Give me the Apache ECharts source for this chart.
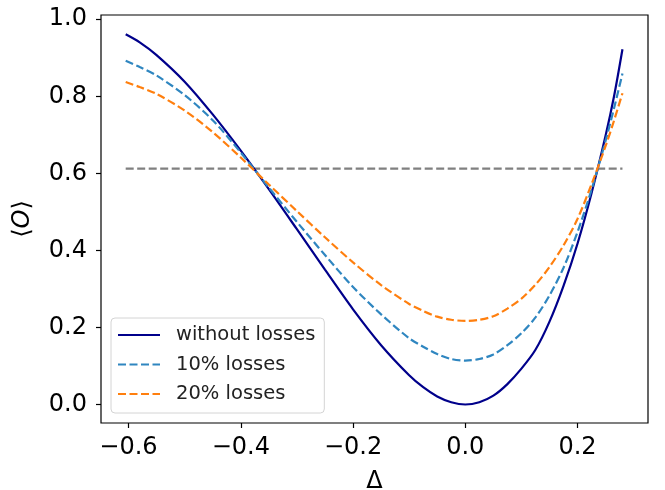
<!DOCTYPE html>
<html>
<head>
<meta charset="utf-8">
<script src="https://cdn.jsdelivr.net/npm/echarts@6/dist/echarts.min.js"></script>
<style>
  html, body { margin: 0; padding: 0; background: #fff; }
  #chart { width: 665px; height: 490px; }
</style>
</head>
<body>
<div id="chart"></div>
<script>
// detuning values (x) and expectation values
const deltas = [-0.605, -0.58, -0.55, -0.50, -0.45, -0.40, -0.35, -0.30, -0.25, -0.20, -0.15, -0.10, -0.075, -0.05, -0.025, 0, 0.025, 0.05, 0.075, 0.10, 0.125, 0.15, 0.175, 0.20, 0.225, 0.25, 0.265, 0.28]
const withoutLosses = [0.961, 0.940, 0.907, 0.838, 0.753, 0.659, 0.559, 0.455, 0.350, 0.247, 0.154, 0.076, 0.045, 0.021, 0.006, 0.0, 0.006, 0.023, 0.053, 0.093, 0.142, 0.215, 0.308, 0.418, 0.549, 0.698, 0.800, 0.922]
const losses10 = [0.892, 0.876, 0.854, 0.803, 0.738, 0.654, 0.563, 0.474, 0.388, 0.305, 0.234, 0.172, 0.150, 0.131, 0.118, 0.114, 0.118, 0.130, 0.154, 0.185, 0.226, 0.283, 0.355, 0.448, 0.558, 0.685, 0.769, 0.859]
const losses20 = [0.837, 0.824, 0.806, 0.763, 0.707, 0.641, 0.571, 0.502, 0.434, 0.369, 0.310, 0.261, 0.243, 0.228, 0.220, 0.217, 0.220, 0.229, 0.249, 0.275, 0.311, 0.357, 0.413, 0.482, 0.572, 0.671, 0.737, 0.808]
const thresholdX = [-0.605, 0.28]
const thresholdY = [0.612, 0.612]
const xTicks = [-0.6, -0.4, -0.2, 0.0, 0.2]
const yTicks = [0.0, 0.2, 0.4, 0.6, 0.8, 1.0]
const seriesNames = ['without losses', '10% losses', '20% losses']

const pairs = (xs, ys) => xs.map((x, i) => [x, ys[i]])
const fmt = v => v.toFixed(1).replace('-', '\u2212')

const chart = echarts.init(document.getElementById('chart'))

chart.setOption({
  animation: false,
  backgroundColor: '#fff',
  textStyle: { fontFamily: 'DejaVu Sans' },
  grid: {
    left: 101,
    right: 17,
    top: 15,
    bottom: 67,
    outerBoundsMode: 'none',
    show: true,
    borderColor: '#000',
    borderWidth: 1.2
  },
  xAxis: {
    type: 'value',
    min: -0.649,
    max: 0.3255,
    name: '\u0394',
    nameLocation: 'middle',
    nameGap: 47,
    nameTextStyle: { fontSize: 24, color: '#000' },
    axisLine: { show: false, onZero: false },
    axisTick: { show: true, length: 5, customValues: xTicks, lineStyle: { color: '#000', width: 1.2 } },
    axisLabel: { customValues: xTicks, formatter: fmt, fontSize: 24, color: '#000', margin: 13 },
    splitLine: { show: false }
  },
  yAxis: {
    type: 'value',
    min: -0.048,
    max: 1.011,
    name: '{a|\u27E8}{i|O}{a|\u27E9}',
    nameLocation: 'middle',
    nameRotate: 90,
    nameGap: 66,
    nameTextStyle: {
      rich: {
        a: { fontSize: 24, color: '#000', fontFamily: 'DejaVu Sans' },
        i: { fontSize: 24, color: '#000', fontFamily: 'DejaVu Sans', fontStyle: 'italic' }
      }
    },
    axisLine: { show: false, onZero: false },
    axisTick: { show: true, length: 5, customValues: yTicks, lineStyle: { color: '#000', width: 1.2 } },
    axisLabel: { customValues: yTicks, formatter: fmt, fontSize: 24, color: '#000', margin: 14 },
    splitLine: { show: false }
  },
  legend: {
    data: seriesNames,
    orient: 'vertical',
    left: 111,
    top: 318,
    itemWidth: 42,
    itemHeight: 14,
    itemGap: 9.5,
    padding: [7, 9, 9, 6],
    backgroundColor: 'rgba(255,255,255,0.8)',
    borderColor: '#d4d4d4',
    borderWidth: 1,
    borderRadius: 4,
    itemStyle: { opacity: 0 },
    textStyle: { fontSize: 19.5, color: '#222', padding: [0, 0, 0, 11] }
  },
  series: [
    {
      name: 'threshold',
      type: 'line',
      data: pairs(thresholdX, thresholdY),
      symbol: 'none',
      lineStyle: { color: '#808080', width: 2.2, type: [8, 3.5] },
      silent: true
    },
    {
      name: seriesNames[0],
      type: 'line',
      data: pairs(deltas, withoutLosses),
      smooth: 0.3,
      symbol: 'none',
      color: '#00008b',
      lineStyle: { color: '#00008b', width: 2.2 }
    },
    {
      name: seriesNames[1],
      type: 'line',
      data: pairs(deltas, losses10),
      smooth: 0.3,
      symbol: 'none',
      color: '#2f86c0',
      lineStyle: { color: '#2f86c0', width: 2.2, type: [8, 3.5] }
    },
    {
      name: seriesNames[2],
      type: 'line',
      data: pairs(deltas, losses20),
      smooth: 0.3,
      symbol: 'none',
      color: '#ff7f0e',
      lineStyle: { color: '#ff7f0e', width: 2.2, type: [8, 3.5] }
    }
  ]
})
</script>
</body>
</html>
